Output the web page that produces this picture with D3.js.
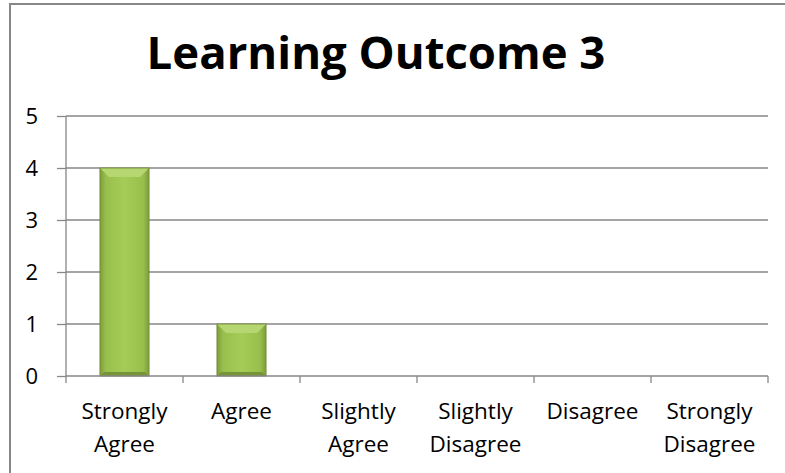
<!DOCTYPE html>
<html><head><meta charset="utf-8">
<script src="https://cdn.jsdelivr.net/npm/d3@7"></script>
<style>body{margin:0;background:#fff;overflow:hidden}svg{display:block}</style>
</head><body>
<svg id="c" width="785" height="473"></svg>
<script>
const title = "Learning Outcome 3";
const categories = [["Strongly","Agree"],["Agree"],["Slightly","Agree"],["Slightly","Disagree"],["Disagree"],["Strongly","Disagree"]];
const values = [4, 1, 0, 0, 0, 0];
const yTicks = [0, 1, 2, 3, 4, 5];

const svg = d3.select("#c");
const W = 785, H = 473;
const m = {left: 66, right: 17, top: 116, bottom: 97};
const iw = W - m.left - m.right, ih = H - m.top - m.bottom;
const font = "'Open Sans', 'Noto Sans', sans-serif";

// chart border (top and left edges visible; continues past the window)
svg.append("line").attr("x1", 10).attr("x2", W).attr("y1", 4).attr("y2", 4)
  .attr("stroke", "#878787").attr("stroke-width", 2);
svg.append("line").attr("x1", 10).attr("x2", 10).attr("y1", 3).attr("y2", H)
  .attr("stroke", "#878787").attr("stroke-width", 2);

svg.append("text").attr("x", 376).attr("y", 69).attr("text-anchor", "middle")
  .attr("font-family", font).attr("font-weight", 700).attr("font-size", 45.5)
  .attr("fill", "#000").text(title);

const x = d3.scaleBand().domain(d3.range(categories.length)).range([0, iw]).paddingInner(0.58).paddingOuter(0.29);
const xc = d3.scaleBand().domain(d3.range(categories.length)).range([0, iw]);
const y = d3.scaleLinear().domain([0, 5]).range([ih, 0]);

const g = svg.append("g").attr("transform", `translate(${m.left},${m.top})`);

// gridlines
g.append("g").selectAll("line").data(yTicks.filter(d => d > 0)).join("line")
  .attr("x1", 0).attr("x2", iw).attr("y1", d => y(d)).attr("y2", d => y(d))
  .attr("stroke", "#878787").attr("stroke-width", 1.3);

// y axis
const ya = g.append("g").call(d3.axisLeft(y).tickValues(yTicks).tickSize(9).tickPadding(19).tickFormat(d3.format("d")));
ya.attr("font-size", null).attr("font-family", null);
ya.select(".domain").attr("stroke", "#878787").attr("stroke-width", 1.3).attr("d", `M0,${ih}V0`);
ya.selectAll(".tick line").attr("stroke", "#878787").attr("stroke-width", 1.3);
ya.selectAll(".tick text").style("font-family", font).style("font-size", "22px").attr("fill", "#000").attr("dy", "0.36em");

// bars
const defs = svg.append("defs");
const gr = defs.append("linearGradient").attr("id", "barG").attr("x1", 0).attr("x2", 1).attr("y1", 0).attr("y2", 0);
[[0, "#7d9c3c"], [0.12, "#98bf4c"], [0.5, "#a6cc58"], [0.88, "#98bf4c"], [1, "#7d9c3c"]]
  .forEach(([o, c]) => gr.append("stop").attr("offset", o).attr("stop-color", c));

const bars = g.append("g").selectAll("g").data(values.map((v, i) => ({v, i})).filter(d => d.v > 0)).join("g");
const bv = 9;
bars.append("rect").attr("x", d => x(d.i)).attr("y", d => y(d.v)).attr("width", x.bandwidth())
  .attr("height", d => y(0) - y(d.v)).attr("fill", "url(#barG)");
bars.append("path").attr("fill", "#b5d671").attr("d", d => {
  const x0 = x(d.i), x1 = x0 + x.bandwidth(), y0 = y(d.v);
  return `M${x0},${y0}H${x1}L${x1 - bv},${y0 + bv}H${x0 + bv}Z`;
});
bars.append("path").attr("fill", "#779536").attr("d", d => {
  const x0 = x(d.i), x1 = x0 + x.bandwidth(), y0 = y(0);
  return `M${x0},${y0}H${x1}L${x1 - 4},${y0 - 4}H${x0 + 4}Z`;
});
bars.append("rect").attr("x", d => x(d.i)).attr("y", d => y(d.v)).attr("width", x.bandwidth())
  .attr("height", d => y(0) - y(d.v)).attr("fill", "none").attr("stroke", "#6d8a30").attr("stroke-width", 0.8);

// x axis
const xa = g.append("g").attr("transform", `translate(0,${ih})`);
xa.append("line").attr("x1", 0).attr("x2", iw).attr("stroke", "#878787").attr("stroke-width", 1.3);
xa.selectAll(".tk").data(d3.range(categories.length + 1)).join("line")
  .attr("x1", i => i * xc.step()).attr("x2", i => i * xc.step()).attr("y1", 0).attr("y2", 7)
  .attr("stroke", "#878787").attr("stroke-width", 1.3);
const lbl = xa.selectAll(".lb").data(categories).join("text")
  .attr("text-anchor", "middle").attr("font-family", font).attr("font-size", 22.5).attr("fill", "#000")
  .attr("transform", (d, i) => `translate(${xc(i) + xc.bandwidth() / 2},43)`);
lbl.selectAll("tspan").data(d => d).join("tspan").attr("x", 0).attr("dy", (d, j) => j === 0 ? 0 : 33).text(d => d);
</script>
</body></html>
